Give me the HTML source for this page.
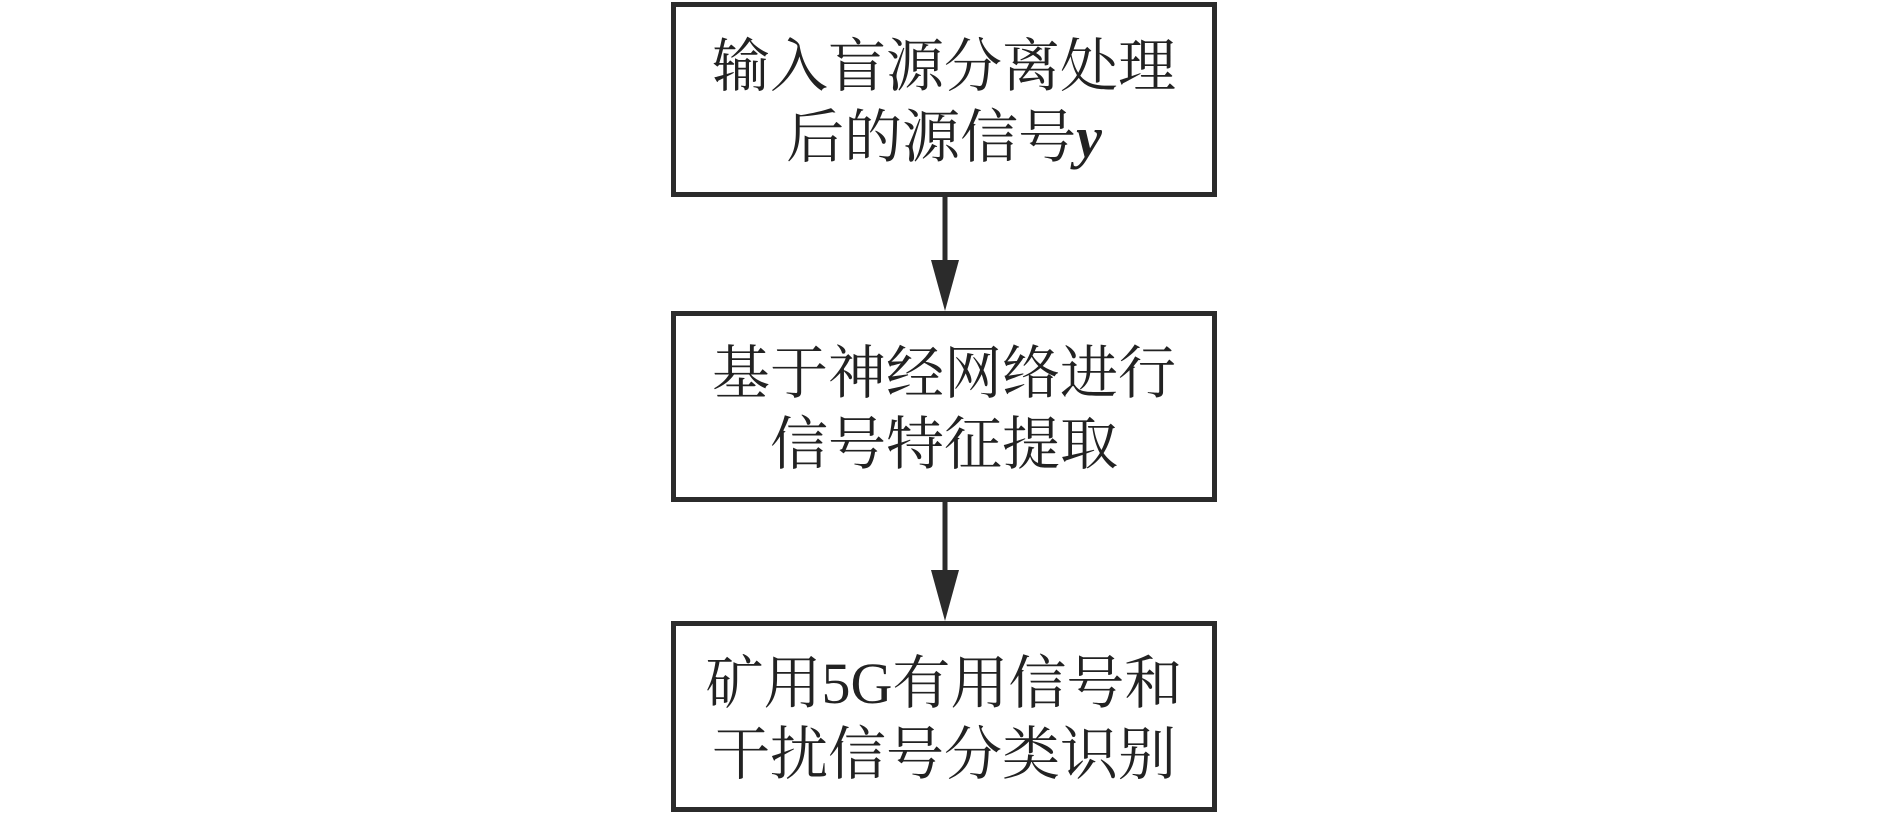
<!DOCTYPE html>
<html><head><meta charset="utf-8"><style>
html,body{margin:0;padding:0;background:#fff;}
body{width:1890px;height:814px;position:relative;overflow:hidden;}
.box{position:absolute;left:671px;width:536px;border:5px solid #2b2b2b;background:#fff;
font-family:"Liberation Serif","Noto Serif CJK SC",serif;font-size:58px;color:#222;text-align:center;line-height:71px;
display:flex;flex-direction:column;justify-content:center;padding-top:4px;box-sizing:content-box;}
</style></head><body>
<div class="box" style="top:2px;height:181px;"><div>输入盲源分离处理</div><div>后的源信号<b><i>y</i></b></div></div>
<div class="box" style="top:311px;height:177px;"><div>基于神经网络进行</div><div>信号特征提取</div></div>
<div class="box" style="top:621px;height:177px;"><div>矿用5G有用信号和</div><div>干扰信号分类识别</div></div>
<svg width="1890" height="814" style="position:absolute;left:0;top:0" xmlns="http://www.w3.org/2000/svg">
<line x1="945" y1="192" x2="945" y2="262" stroke="#2b2b2b" stroke-width="5"/>
<polygon points="931,260 959,260 945,311" fill="#2b2b2b"/>
<line x1="945" y1="501" x2="945" y2="572" stroke="#2b2b2b" stroke-width="5"/>
<polygon points="931,570 959,570 945,621" fill="#2b2b2b"/>
</svg>
</body></html>
